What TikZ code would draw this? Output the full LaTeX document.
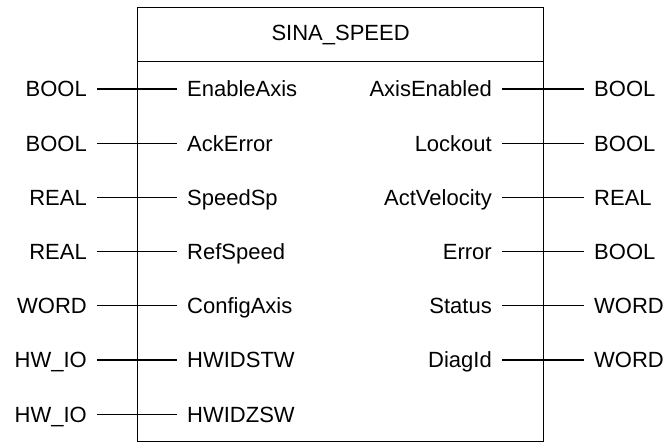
\documentclass[tikz,border=0pt]{standalone}
\usepackage{fontspec}
\setmainfont{Liberation Sans}
\usetikzlibrary{positioning}
\tikzset{
    fbbox/.style={draw, line width=1.2pt, minimum width=406pt, minimum height=433.5pt, inner sep=0pt},
    fbhead/.style={draw, line width=1.2pt, minimum width=406pt, minimum height=54pt, inner sep=0pt, font=\fontsize{22}{26}\selectfont},
    pinlbl/.style={inner xsep=10pt, inner ysep=0pt, text height=15.8pt, text depth=0pt, font=\fontsize{22}{26}\selectfont},
    typelbl/.style={pinlbl},
    wire/.style={line width=1.2pt}
}

\begin{document}
\begin{tikzpicture}[x=1pt, y=-1pt]
    \useasboundingbox (0,0) rectangle (668,441);
    % function block
    \node[fbbox, anchor=north west] (fb) at (137,7) {};
    \node[fbhead, anchor=north] (hdr) at (fb.north) {SINA\_SPEED};
    % inputs
    \node[typelbl, anchor=east] (ti1) at (97,89) {BOOL};
    \node[pinlbl, right=80pt of ti1] (in1) {EnableAxis};
    \node[typelbl, anchor=east] (ti2) at (97,143.2) {BOOL};
    \node[pinlbl, right=80pt of ti2] (in2) {AckError};
    \node[typelbl, anchor=east] (ti3) at (97,197.4) {REAL};
    \node[pinlbl, right=80pt of ti3] (in3) {SpeedSp};
    \node[typelbl, anchor=east] (ti4) at (97,251.6) {REAL};
    \node[pinlbl, right=80pt of ti4] (in4) {RefSpeed};
    \node[typelbl, anchor=east] (ti5) at (97,305.8) {WORD};
    \node[pinlbl, right=80pt of ti5] (in5) {ConfigAxis};
    \node[typelbl, anchor=east] (ti6) at (97,360) {HW\_IO};
    \node[pinlbl, right=80pt of ti6] (in6) {HWIDSTW};
    \node[typelbl, anchor=east] (ti7) at (97,414.2) {HW\_IO};
    \node[pinlbl, right=80pt of ti7] (in7) {HWIDZSW};
    % outputs
    \node[pinlbl, anchor=east] (out1) at (502,89) {AxisEnabled};
    \node[typelbl, right=82pt of out1] (to1) {BOOL};
    \node[pinlbl, anchor=east] (out2) at (502,143.2) {Lockout};
    \node[typelbl, right=82pt of out2] (to2) {BOOL};
    \node[pinlbl, anchor=east] (out3) at (502,197.4) {ActVelocity};
    \node[typelbl, right=82pt of out3] (to3) {REAL};
    \node[pinlbl, anchor=east] (out4) at (502,251.6) {Error};
    \node[typelbl, right=82pt of out4] (to4) {BOOL};
    \node[pinlbl, anchor=east] (out5) at (502,305.8) {Status};
    \node[typelbl, right=82pt of out5] (to5) {WORD};
    \node[pinlbl, anchor=east] (out6) at (502,360) {DiagId};
    \node[typelbl, right=82pt of out6] (to6) {WORD};
    % wires
    \draw[wire] (ti1) -- (in1);
    \draw[wire] (ti2) -- (in2);
    \draw[wire] (ti3) -- (in3);
    \draw[wire] (ti4) -- (in4);
    \draw[wire] (ti5) -- (in5);
    \draw[wire] (ti6) -- (in6);
    \draw[wire] (ti7) -- (in7);
    \draw[wire] (out1) -- (to1);
    \draw[wire] (out2) -- (to2);
    \draw[wire] (out3) -- (to3);
    \draw[wire] (out4) -- (to4);
    \draw[wire] (out5) -- (to5);
    \draw[wire] (out6) -- (to6);
\end{tikzpicture}
\end{document}
